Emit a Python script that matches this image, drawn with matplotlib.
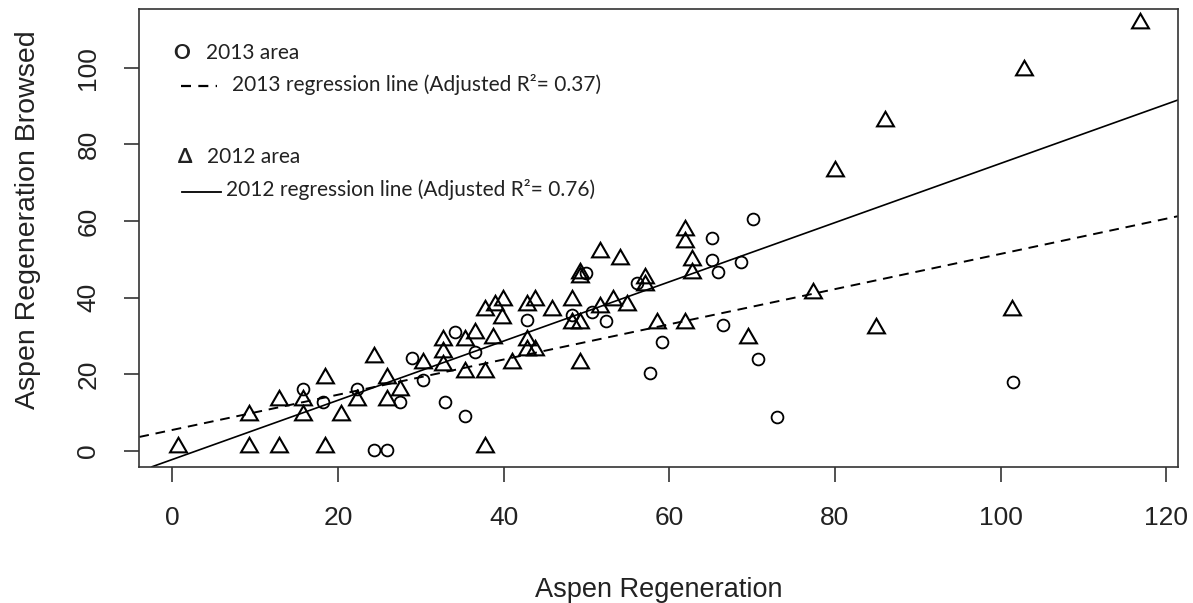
import matplotlib.pyplot as plt

# 2012 area (triangles)
x2012 = [0.7, 9.2, 9.2, 12.9, 12.9, 15.8, 15.8, 18.4, 18.4, 20.4, 22.3, 24.3, 25.9, 25.9, 27.5,
         30.3, 32.7, 32.7, 32.7, 35.3, 36.5, 35.3, 37.7, 37.7, 38.7, 41.0, 42.8, 42.8, 43.8,
         37.7, 38.9, 39.9, 39.8, 42.8, 43.8, 45.8, 48.2, 48.2, 49.2, 49.2, 51.6, 53.2, 54.9,
         58.5, 61.9, 51.6, 54.0, 49.2, 49.2, 57.1, 57.1, 61.9, 61.9, 62.7, 62.7,
         69.5, 77.4, 85.0, 80.0, 86.0, 101.4, 102.8, 116.9]
y2012 = [1.1, 9.4, 1.1, 13.3, 1.1, 13.3, 9.4, 19.0, 1.1, 9.4, 13.3, 24.6, 19.0, 13.3, 15.9,
         22.9, 28.9, 25.9, 22.4, 28.9, 30.7, 20.7, 20.7, 1.1, 29.4, 22.9, 28.9, 26.3, 26.3,
         36.8, 38.1, 39.4, 34.6, 38.1, 39.4, 36.8, 39.4, 33.3, 33.3, 22.9, 37.6, 39.4, 38.1,
         33.3, 33.3, 52.0, 50.2, 45.5, 46.3, 45.0, 43.3, 57.6, 54.6, 49.8, 46.3,
         29.4, 41.1, 32.0, 73.0, 86.0, 36.8, 99.3, 111.5]

# 2013 area (circles)
x2013 = [15.8, 18.2, 22.3, 24.3, 25.9, 27.5, 28.9, 30.3, 32.9, 35.3, 34.1, 36.5, 42.8, 48.2,
         50.7, 52.4, 50.0, 56.1, 57.7, 59.1, 65.1, 65.1, 65.9, 68.7, 70.1, 66.5, 70.7, 73.0, 101.5]
y2013 = [16.1, 12.9, 16.1, 0.3, 0.3, 12.9, 24.2, 18.5, 12.9, 9.1, 31.1, 25.9, 34.2, 35.5,
         36.3, 34.0, 46.5, 43.7, 20.4, 28.5, 55.5, 49.8, 46.8, 49.4, 60.4, 32.9, 24.0, 8.9, 18.0]

# regression lines (intercept, slope)
fit2013 = (5.5, 0.459)
fit2012 = (-2.2, 0.772)

area_labels = ["2013 area", "2012 area"]
line_labels = ["2013 regression line (Adjusted R²= 0.37)",
               "2012 regression line (Adjusted R²= 0.76)"]

fig = plt.figure(figsize=(11.93, 6.03), dpi=100)
ax = fig.add_axes([0.1168, 0.226, 0.8704, 0.7586])

ax.plot(x2012, y2012, linestyle='none', marker=(3, 0, 0), ms=14, mfc='none', mec='black', mew=1.5)
ax.plot(x2013, y2013, linestyle='none', marker='o', ms=8.5, mfc='none', mec='black', mew=1.3)

dash = (0, (5, 3.5))
ax.axline((0, fit2013[0]), slope=fit2013[1], color='black', lw=1.4, linestyle=dash)
ax.axline((0, fit2012[0]), slope=fit2012[1], color='black', lw=1.2)

ax.set_xlim(-4.0, 121.4)
ax.set_ylim(-4.1, 115.2)
ax.set_xticks(range(0, 121, 20))
ax.set_yticks(range(0, 101, 20))

font = 'Liberation Sans'
ax.tick_params(length=11, width=1.1, pad=17, labelsize=19, colors='#222222')
for lab in ax.get_xticklabels() + ax.get_yticklabels():
    lab.set_family(font)
for lab in ax.get_yticklabels():
    lab.set_rotation(90)
    lab.set_va('center')
for s in ax.spines.values():
    s.set_linewidth(1.2)
    s.set_color('#333333')

ax.set_xlabel('Aspen Regeneration', family=font, fontsize=19.5, color='#222222')
ax.set_ylabel('Aspen Regeneration Browsed', family=font, fontsize=20.5, color='#222222')
ax.xaxis.set_label_coords(0.5, -0.241)
ax.yaxis.set_label_coords(-0.107, 0.54)
ax.yaxis.label.set_va('center')

# hand-made legend, as in the original figure
lfont = dict(fontsize=15, family=['Lato', 'DejaVu Sans'], color='#222222', va='center',
             transform=ax.transAxes)
ax.text(0.0408, 0.905, 'O', ha='center', weight='bold', **lfont)
ax.text(0.0642, 0.905, area_labels[0], ha='left', **lfont)
ax.plot([0.0399, 0.0748], [0.833, 0.833], transform=ax.transAxes, color='black', lw=1.6,
        linestyle=(0, (4.5, 3.3)))
ax.text(0.089, 0.835, line_labels[0], ha='left', **lfont)
ax.text(0.0440, 0.677, 'Δ', ha='center', weight='bold', **lfont)
ax.text(0.0655, 0.677, area_labels[1], ha='left', **lfont)
ax.plot([0.0408, 0.0784], [0.601, 0.601], transform=ax.transAxes, color='black', lw=1.3)
ax.text(0.0832, 0.605, line_labels[1], ha='left', **lfont)

fig.savefig('out.png', dpi=100)
